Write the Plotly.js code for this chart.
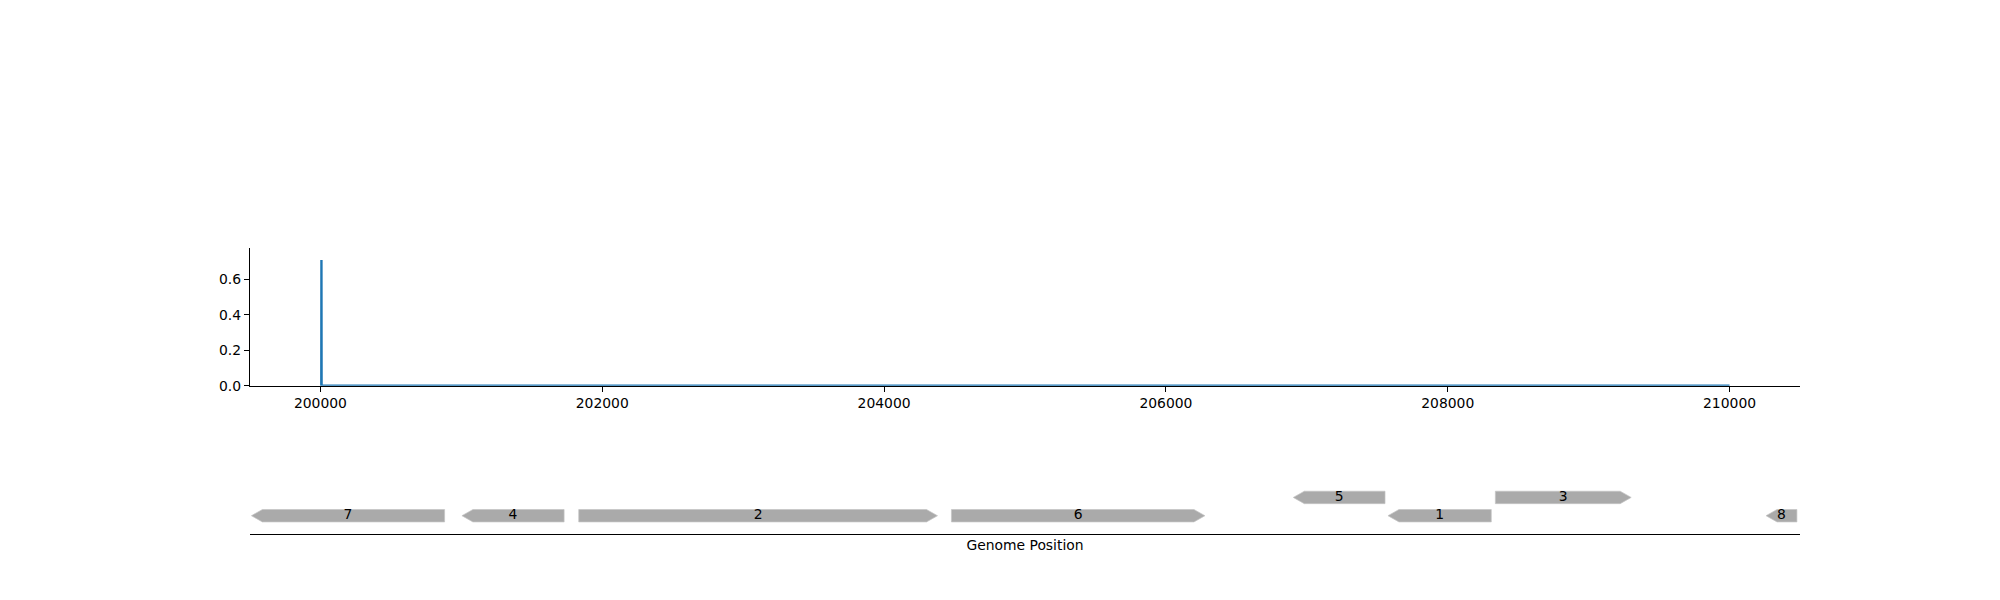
<!DOCTYPE html>
<html>
<head>
<meta charset="utf-8">
<script src="https://cdn.plot.ly/plotly-3.0.1.min.js"></script>
<style>html,body{margin:0;padding:0;background:#fff;}#chart{width:2000px;height:600px;}</style>
</head>
<body>
<div id="chart"></div>
<script>
// ---- data ----
const coverageX = [200006, 200007, 200008, 210000];
const coverageY = [0, 0.709, 0, 0];

const geneLabels = ['7', '4', '2', '6', '5', '1', '3', '8'];
const geneStart  = [199510, 201004, 201833, 204478, 206904, 207576, 208338, 210259];
const geneEnd    = [200881, 201729, 204379, 206277, 207555, 208309, 209302, 210478];
const geneStrand = [-1, -1, 1, 1, -1, -1, 1, -1];
const geneLevel  = [0, 0, 0, 0, 1, 0, 1, 0];

const xTickVals = [200000, 202000, 204000, 206000, 208000, 210000];
const yTickVals = [0.0, 0.2, 0.4, 0.6];

// ---- style / layout constants ----
const W = 2000, H = 600;
const xRange = [199500, 210500];
const xDomain = [0.125, 0.9];
const headPx = 11;
const halfH = 0.34;
const bpPerPx = (xRange[1] - xRange[0]) / ((xDomain[1] - xDomain[0]) * W);
const headBp = headPx * bpPerPx;
const FONT = 'DejaVu Sans, Arial, sans-serif';

// gene polygons
const px = [], py = [];
for (let i = 0; i < geneLabels.length; i++) {
  const s = geneStart[i], e = geneEnd[i];
  const yc = 1 + geneLevel[i];
  const top = yc + halfH, bot = yc - halfH;
  const h = Math.min(headBp, (e - s));
  if (geneStrand[i] > 0) {
    px.push(s, e - h, e, e - h, s, s);
    py.push(bot, bot, yc, top, top, bot);
  } else {
    px.push(e, s + h, s, s + h, e, e);
    py.push(bot, bot, yc, top, top, bot);
  }
  px.push(null); py.push(null);
}

const traces = [
  {
    x: coverageX, y: coverageY, type: 'scatter', mode: 'lines',
    line: {color: '#1f77b4', width: 2.4}, xaxis: 'x', yaxis: 'y',
    hoverinfo: 'x+y', showlegend: false
  },
  {
    x: px, y: py, type: 'scatter', mode: 'lines', fill: 'toself',
    fillcolor: '#aaaaaa', line: {color: '#c4c4c4', width: 0.7},
    xaxis: 'x2', yaxis: 'y2', hoverinfo: 'skip', showlegend: false
  },
  {
    x: geneStart.map((s, i) => (s + geneEnd[i]) / 2),
    y: geneLevel.map(l => 1 + l),
    text: geneLabels, type: 'scatter', mode: 'text',
    textposition: 'middle center',
    textfont: {family: FONT, size: 13.9, color: '#000'},
    xaxis: 'x2', yaxis: 'y2', hoverinfo: 'text', showlegend: false,
    cliponaxis: false
  }
];

const layout = {
  width: W, height: H,
  margin: {l: 0, r: 0, t: 0, b: 0},
  paper_bgcolor: '#fff', plot_bgcolor: 'rgba(0,0,0,0)',
  font: {family: FONT, size: 13.9, color: '#000'},
  showlegend: false,
  xaxis: {
    domain: xDomain, anchor: 'y', range: xRange,
    showgrid: false, zeroline: false, showline: true, linecolor: '#000', linewidth: 1.1,
    ticks: 'outside', ticklen: 5, tickwidth: 1.1, tickcolor: '#000',
    tickvals: xTickVals, ticktext: xTickVals.map(v => String(v)),
    tickfont: {family: FONT, size: 13.9, color: '#000'}
  },
  yaxis: {
    domain: [214.3 / 600, 351.7 / 600], anchor: 'x', range: [0, 0.775],
    showgrid: false, zeroline: false, showline: true, linecolor: '#000', linewidth: 1.1,
    ticks: 'outside', ticklen: 5, tickwidth: 1.1, tickcolor: '#000',
    tickvals: yTickVals, ticktext: yTickVals.map(v => v.toFixed(1)),
    tickfont: {family: FONT, size: 13.9, color: '#000'}
  },
  xaxis2: {
    domain: xDomain, anchor: 'y2', range: xRange,
    showgrid: false, zeroline: false, showline: true, linecolor: '#000', linewidth: 1.3,
    ticks: '', showticklabels: false,
    title: {text: 'Genome Position', font: {family: FONT, size: 13.9, color: '#000'}, standoff: 6}
  },
  yaxis2: {
    domain: [66 / 600, 140 / 600], anchor: 'x2', range: [0, 3.5 * 74 / 64],
    visible: false, showgrid: false, zeroline: false
  }
};

Plotly.newPlot('chart', traces, layout, {displayModeBar: false, staticPlot: true});
</script>
</body>
</html>
